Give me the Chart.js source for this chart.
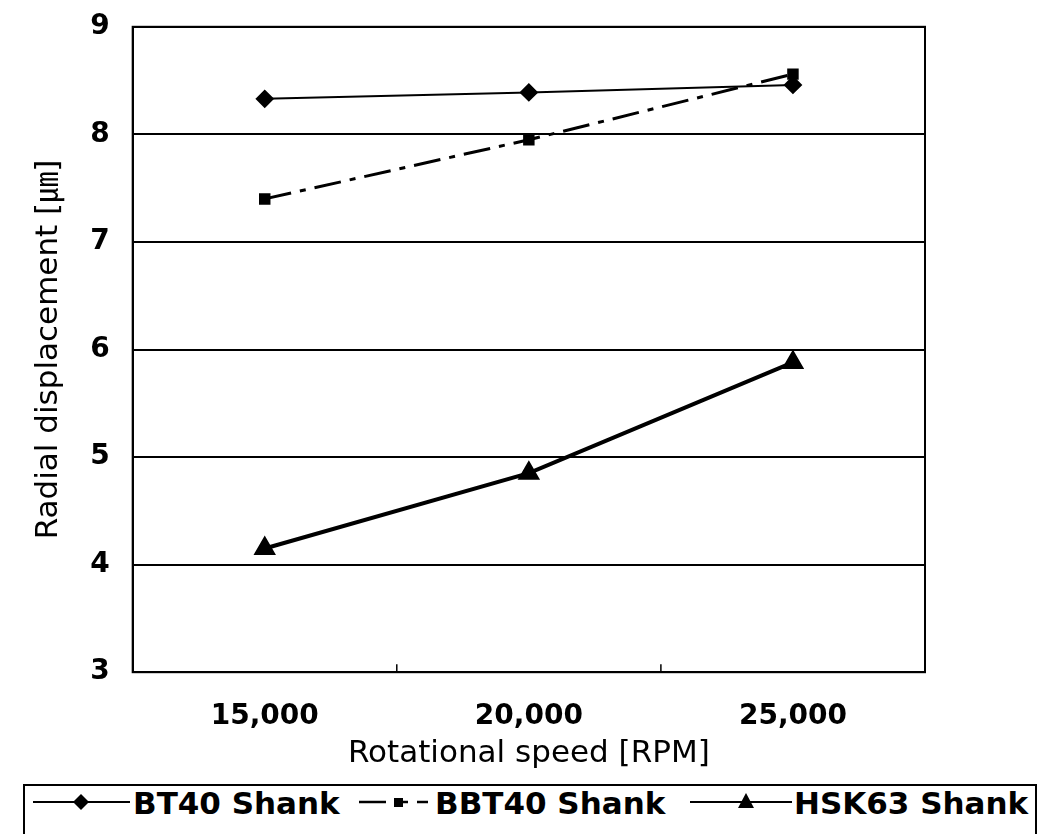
<!DOCTYPE html>
<html>
<head>
<meta charset="utf-8">
<script src="https://cdn.jsdelivr.net/npm/chart.js@4"></script>
<style>
  body { margin: 0; background: #fff; width: 1050px; height: 834px; overflow: hidden; position: relative; }
  #wrap { position: absolute; left: 0; top: 0; width: 1050px; height: 780px; }
  #legend {
    position: absolute; left: 23px; top: 784px; width: 1014px; height: 60px;
    border: 2px solid #000; box-sizing: border-box;
    font: bold 31px "DejaVu Sans", sans-serif; color: #000;
  }
  #legend .item { position: absolute; top: -1px; height: 36px; line-height: 36px; display: flex; align-items: center; white-space: nowrap; }
  #legend svg { display: block; }
</style>
</head>
<body>
<div id="wrap"><canvas id="shankChart"></canvas></div>
<div id="legend"></div>
<script>
// Radial displacement vs rotational speed
var speeds = ["15,000", "20,000", "25,000"];
var bt40 = [8.33, 8.39, 8.46];
var bbt40 = [7.40, 7.95, 8.56];
var hsk63 = [4.15, 4.85, 5.88];
var seriesNames = ["BT40 Shank", "BBT40 Shank", "HSK63 Shank"];

// box around the plot + small inside ticks between the categories
var plotFrame = {
  id: 'plotFrame',
  afterDatasetsDraw: function (chart) {
    var a = chart.chartArea, ctx = chart.ctx, x = chart.scales.x;
    ctx.save();
    ctx.strokeStyle = '#000';
    ctx.lineWidth = 2;
    ctx.strokeRect(a.left, a.top, a.right - a.left, a.bottom - a.top);
    ctx.lineWidth = 1.5;
    for (var i = 0; i < speeds.length - 1; i++) {
      var px = (x.getPixelForTick(i) + x.getPixelForTick(i + 1)) / 2;
      ctx.beginPath();
      ctx.moveTo(px, a.bottom);
      ctx.lineTo(px, a.bottom - 8);
      ctx.stroke();
    }
    ctx.restore();
  }
};

document.addEventListener("DOMContentLoaded", function () {
  var ctx = document.getElementById("shankChart").getContext("2d");
  var chart = new Chart(ctx, {
    type: 'line',
    data: {
      labels: speeds,
      datasets: [{
        label: seriesNames[0],
        data: bt40,
        borderColor: '#000',
        backgroundColor: '#000',
        borderWidth: 2,
        pointStyle: 'rectRot',
        pointRadius: 8,
        fill: false
      }, {
        label: seriesNames[1],
        data: bbt40,
        borderColor: '#000',
        backgroundColor: '#000',
        borderWidth: 3,
        borderDash: [27, 9, 6, 9],
        pointStyle: 'rect',
        pointRadius: 6,
        fill: false
      }, {
        label: seriesNames[2],
        data: hsk63,
        borderColor: '#000',
        backgroundColor: '#000',
        borderWidth: 4,
        pointStyle: 'triangle',
        pointRadius: 9,
        fill: false
      }]
    },
    options: {
      responsive: true,
      maintainAspectRatio: false,
      animation: false,
      layout: { padding: { left: 19, right: 125, top: 0, bottom: 5 } },
      plugins: {
        legend: { display: false },
        tooltip: { enabled: false }
      },
      scales: {
        x: {
          offset: true,
          grid: { display: false, tickLength: 28 },
          border: { display: false },
          ticks: {
            color: '#000',
            padding: 0,
            font: { family: '"DejaVu Sans", sans-serif', size: 28, weight: 'bold' }
          },
          title: {
            display: true,
            text: 'Rotational speed [RPM]',
            color: '#000',
            padding: { top: 2, bottom: 2 },
            font: { family: '"DejaVu Sans", sans-serif', size: 31 }
          }
        },
        y: {
          min: 3,
          max: 9,
          grid: { color: '#000', lineWidth: 2, drawTicks: true, tickLength: 13, tickColor: 'rgba(0,0,0,0)' },
          border: { display: true, color: '#000', width: 2 },
          ticks: {
            stepSize: 1,
            color: '#000',
            padding: 10,
            font: { family: '"DejaVu Sans", sans-serif', size: 28, weight: 'bold' }
          },
          title: {
            display: true,
            text: 'Radial displacement [\u339B]',
            color: '#000',
            padding: { top: 11, bottom: 13 },
            font: { family: '"DejaVu Sans", "Noto Sans CJK KR", sans-serif', size: 31 }
          }
        }
      }
    },
    plugins: [plotFrame]
  });

  // legend under the chart: line sample with its marker, then the name
  var icons = [
    '<svg width="100" height="30"><line x1="0" y1="14" x2="97" y2="14" stroke="#000" stroke-width="2"/><polygon points="48,6 56,14 48,22 40,14" fill="#000"/></svg>',
    '<svg width="80" height="30"><line x1="4" y1="14" x2="31" y2="14" stroke="#000" stroke-width="2.5"/><rect x="39" y="10" width="9" height="9" fill="#000"/><line x1="48" y1="14" x2="53" y2="14" stroke="#000" stroke-width="2.5"/><line x1="62" y1="14" x2="73" y2="14" stroke="#000" stroke-width="2.5"/></svg>',
    '<svg width="104" height="30"><line x1="0" y1="14" x2="102" y2="14" stroke="#000" stroke-width="2"/><polygon points="56,5 64,20 48,20" fill="#000"/></svg>'
  ];
  var itemLeft = [8, 330, 665];
  var legend = document.getElementById("legend");
  var html = '';
  for (var i = 0; i < seriesNames.length; i++) {
    html += '<div class="item" style="left:' + itemLeft[i] + 'px">' + icons[i] + '<span>' + seriesNames[i] + '</span></div>';
  }
  legend.innerHTML = html;
});
</script>
</body>
</html>
